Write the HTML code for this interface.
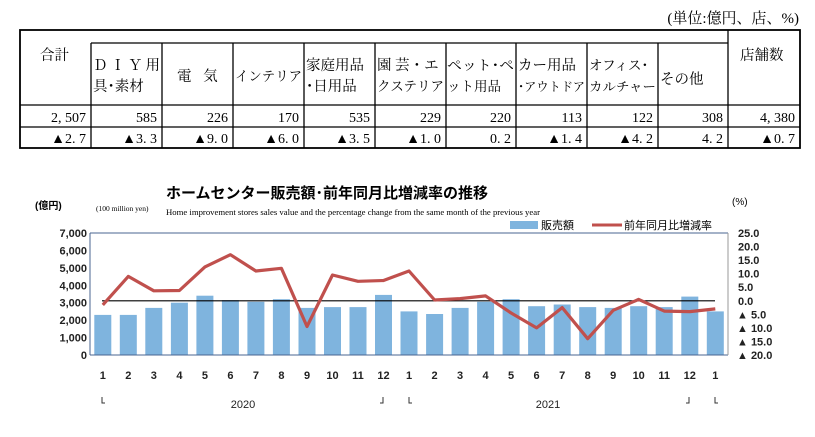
<!DOCTYPE html>
<html><head><meta charset="utf-8"><style>
body{margin:0;background:#fff;width:815px;height:432px;overflow:hidden}
.s{font-family:"Liberation Serif","Noto Serif CJK JP",serif}
.g{font-family:"Liberation Sans","Noto Sans CJK JP",sans-serif}
</style></head><body>
<svg width="815" height="432" xmlns="http://www.w3.org/2000/svg">
<text x="799" y="23" font-size="15" text-anchor="end" class="s">(単位:億円、店、%)</text>
<g stroke="#000" stroke-width="1.3" fill="none">
<rect x="20" y="30" width="780" height="118" stroke-width="1.8"/>
<line x1="91" y1="43" x2="728" y2="43"/>
<line x1="20" y1="105" x2="800" y2="105"/>
<line x1="20" y1="127" x2="800" y2="127"/>
<line x1="91" y1="43" x2="91" y2="148"/>
<line x1="162" y1="43" x2="162" y2="148"/>
<line x1="233" y1="43" x2="233" y2="148"/>
<line x1="304" y1="43" x2="304" y2="148"/>
<line x1="375" y1="43" x2="375" y2="148"/>
<line x1="446" y1="43" x2="446" y2="148"/>
<line x1="516" y1="43" x2="516" y2="148"/>
<line x1="587" y1="43" x2="587" y2="148"/>
<line x1="658" y1="43" x2="658" y2="148"/>
<line x1="728" y1="30" x2="728" y2="148"/>
</g>
<g class="s" font-size="14.5">
<text x="40" y="60">合計</text>
<text x="93" y="70" letter-spacing="3">ＤＩＹ用</text>
<text x="93" y="91">具･素材</text>
<text x="177" y="81" letter-spacing="4">電 気</text>
<text x="235" y="81" font-size="13.5" textLength="67" lengthAdjust="spacingAndGlyphs">インテリア</text>
<text x="306" y="70">家庭用品</text>
<text x="306" y="91">･日用品</text>
<text x="377" y="70">園 芸・エ</text>
<text x="377" y="91" font-size="13.5" textLength="67" lengthAdjust="spacingAndGlyphs">クステリア</text>
<text x="447" y="70" font-size="13.5" textLength="67" lengthAdjust="spacingAndGlyphs">ペット･ペ</text>
<text x="447" y="91" font-size="13.5">ット用品</text>
<text x="518" y="70">カー用品</text>
<text x="518" y="91" font-size="12.5" textLength="67" lengthAdjust="spacingAndGlyphs">･アウトドア</text>
<text x="589" y="70" font-size="13.5">オフィス･</text>
<text x="589" y="91" font-size="12.5" textLength="67" lengthAdjust="spacingAndGlyphs">カルチャー</text>
<text x="660" y="84">その他</text>
<text x="740" y="60">店舗数</text>
</g>
<g class="s" font-size="14" text-anchor="end">
<text x="86" y="122">2, 507</text><text x="157" y="122">585</text><text x="228" y="122">226</text><text x="299" y="122">170</text><text x="370" y="122">535</text><text x="441" y="122">229</text><text x="511" y="122">220</text><text x="582" y="122">113</text><text x="653" y="122">122</text><text x="723" y="122">308</text><text x="795" y="122">4, 380</text>
<text x="86" y="143">▲2. 7</text><text x="157" y="143">▲3. 3</text><text x="228" y="143">▲9. 0</text><text x="299" y="143">▲6. 0</text><text x="370" y="143">▲3. 5</text><text x="441" y="143">▲1. 0</text><text x="511" y="143">0. 2</text><text x="582" y="143">▲1. 4</text><text x="653" y="143">▲4. 2</text><text x="723" y="143">4. 2</text><text x="795" y="143">▲0. 7</text>
</g>
<text x="166" y="198" font-size="15" font-weight="bold" class="g">ホームセンター販売額･前年同月比増減率の推移</text>
<text x="166" y="215" font-size="8.6" class="s" textLength="374" lengthAdjust="spacingAndGlyphs">Home improvement stores sales value and the percentage change from the same month of the previous year</text>
<text x="96" y="211" font-size="7.5" class="s">(100 million yen)</text>
<text x="35" y="209" font-size="10" font-weight="bold" class="g">(億円)</text>
<text x="732" y="205" font-size="10" class="g">(%)</text>
<rect x="510" y="221" width="28" height="8" fill="#7fb4de"/>
<text x="541" y="229" font-size="11" class="g">販売額</text>
<line x1="592" y1="225" x2="622" y2="225" stroke="#c0504d" stroke-width="3"/>
<text x="624" y="229" font-size="11" class="g">前年同月比増減率</text>
<g fill="#7fb4de">
<rect x="94.3" y="314.9" width="17" height="40.1"/><rect x="119.8" y="314.9" width="17" height="40.1"/><rect x="145.3" y="307.9" width="17" height="47.1"/><rect x="170.9" y="302.7" width="17" height="52.3"/><rect x="196.4" y="295.7" width="17" height="59.3"/><rect x="221.9" y="300.1" width="17" height="54.9"/><rect x="247.4" y="301.8" width="17" height="53.2"/><rect x="272.9" y="299.2" width="17" height="55.8"/><rect x="298.5" y="307.9" width="17" height="47.1"/><rect x="324" y="307.1" width="17" height="47.9"/><rect x="349.5" y="307.1" width="17" height="47.9"/><rect x="375" y="294.9" width="17" height="60.1"/><rect x="400.5" y="311.4" width="17" height="43.6"/><rect x="426.1" y="314" width="17" height="41"/><rect x="451.6" y="307.9" width="17" height="47.1"/><rect x="477.1" y="301.8" width="17" height="53.2"/><rect x="502.6" y="299.2" width="17" height="55.8"/><rect x="528.1" y="306.2" width="17" height="48.8"/><rect x="553.7" y="304.5" width="17" height="50.5"/><rect x="579.2" y="307.1" width="17" height="47.9"/><rect x="604.7" y="307.9" width="17" height="47.1"/><rect x="630.2" y="306.2" width="17" height="48.8"/><rect x="655.7" y="307.1" width="17" height="47.9"/><rect x="681.3" y="296.6" width="17" height="58.4"/><rect x="706.8" y="311.4" width="17" height="43.6"/>
</g>
<line x1="90" y1="233" x2="728" y2="233" stroke="#4a6590" stroke-width="1"/>
<line x1="90" y1="233" x2="90" y2="355" stroke="#4a6590"/>
<line x1="90" y1="355" x2="728" y2="355" stroke="#4a6590"/>
<line x1="728" y1="233" x2="728" y2="355" stroke="#999"/>
<line x1="102" y1="300.8" x2="715" y2="300.8" stroke="#000" stroke-width="1.2"/>
<polyline fill="none" stroke="#c0504d" stroke-width="3.2" stroke-linejoin="round" points="102.8,304.9 128.3,276.4 153.8,290.8 179.4,290.5 204.9,266.9 230.4,254.7 255.9,271 281.4,268.3 307,326.5 332.5,275 358,281.3 383.5,280.5 409,271 434.6,300 460.1,298.6 485.6,295.9 511.1,313 536.6,327.9 562.2,307.6 587.7,338.7 613.2,310.3 638.7,299.4 664.2,311.1 689.8,311.6 715.3,308.9"/>
<g font-size="11" class="g" text-anchor="end" font-weight="bold" fill="#222">
<text x="87" y="237">7,000</text><text x="87" y="254.4">6,000</text><text x="87" y="271.9">5,000</text><text x="87" y="289.3">4,000</text><text x="87" y="306.7">3,000</text><text x="87" y="324.1">2,000</text><text x="87" y="341.6">1,000</text><text x="87" y="359">0</text>
</g>
<g font-size="11" class="g" font-weight="bold" fill="#222">
<text x="738" y="237">25.0</text><text x="738" y="250.6">20.0</text><text x="738" y="264.1">15.0</text><text x="738" y="277.7">10.0</text><text x="738" y="291.2">5.0</text><text x="738" y="304.8">0.0</text><text x="737" y="318.3">▲ 5.0</text><text x="737" y="331.9">▲ 10.0</text><text x="737" y="345.4">▲ 15.0</text><text x="737" y="359">▲ 20.0</text>
</g>
<g font-size="11" class="g" font-weight="bold" text-anchor="middle" fill="#222">
<text x="102.8" y="379">1</text><text x="128.3" y="379">2</text><text x="153.8" y="379">3</text><text x="179.4" y="379">4</text><text x="204.9" y="379">5</text><text x="230.4" y="379">6</text><text x="255.9" y="379">7</text><text x="281.4" y="379">8</text><text x="307" y="379">9</text><text x="332.5" y="379">10</text><text x="358" y="379">11</text><text x="383.5" y="379">12</text><text x="409" y="379">1</text><text x="434.6" y="379">2</text><text x="460.1" y="379">3</text><text x="485.6" y="379">4</text><text x="511.1" y="379">5</text><text x="536.6" y="379">6</text><text x="562.2" y="379">7</text><text x="587.7" y="379">8</text><text x="613.2" y="379">9</text><text x="638.7" y="379">10</text><text x="664.2" y="379">11</text><text x="689.8" y="379">12</text><text x="715.3" y="379">1</text>
</g>
<g font-size="11" class="g" text-anchor="middle" fill="#222">
<text x="243" y="408">2020</text><text x="548" y="408">2021</text>
</g>
<g stroke="#333" stroke-width="1" fill="none">
<polyline points="102,397 102,403 105,403"/><polyline points="383,397 383,403 380,403"/><polyline points="409,397 409,403 412,403"/><polyline points="689,397 689,403 686,403"/><polyline points="715,397 715,403 718,403"/>
</g>
</svg>
</body></html>
